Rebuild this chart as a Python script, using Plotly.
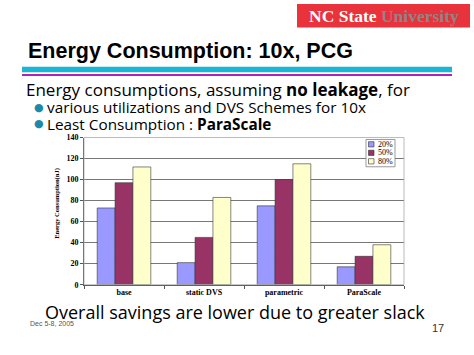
import plotly.graph_objects as go

categories = ["base", "static DVS", "parametric", "ParaScale"]
series_names = ["20%", "50%", "80%"]
values_20 = [73, 21, 75, 17]
values_50 = [97, 45, 100, 27]
values_80 = [112, 83, 115, 38]
y_ticks = [0, 20, 40, 60, 80, 100, 120, 140]

colors = ["#9999FF", "#993366", "#FFFFCC"]
W, H = 474, 355


def px(x):
    return x / W


def py(y):
    return 1 - y / H


fig = go.Figure()
for name, vals, c in zip(series_names, [values_20, values_50, values_80], colors):
    fig.add_trace(go.Bar(x=categories, y=vals, name=name, marker_color=c,
                         marker_line=dict(color="#333333", width=0.6), showlegend=False))

ann = []
shapes = []
# header box
shapes.append(dict(type="rect", xref="paper", yref="paper", x0=px(297), x1=px(470), y0=py(24), y1=py(0),
                   fillcolor="#E8333C", line=dict(width=0), layer="below"))
ann.append(dict(x=px(383.5), y=py(12), xref="paper", yref="paper", showarrow=False,
                text="<b><span style='color:white'>NC State </span><span style='color:#8f8486'>University</span></b>",
                font=dict(family="Liberation Serif", size=17.5), xanchor="center", yanchor="middle"))
# title
ann.append(dict(x=px(26), y=py(48), xref="paper", yref="paper", showarrow=False,
                text="<b>Energy Consumption: 10x, PCG</b>",
                font=dict(family="Liberation Sans", size=21.5, color="black"), xanchor="left", yanchor="middle"))
# lines
shapes.append(dict(type="rect", xref="paper", yref="paper", x0=px(22), x1=px(452), y0=py(70), y1=py(64.5),
                   fillcolor="#1BB5D6", line=dict(width=0)))
shapes.append(dict(type="rect", xref="paper", yref="paper", x0=px(22), x1=px(452), y0=py(74), y1=py(71.7),
                   fillcolor="#B521B5", line=dict(width=0)))
# body text
body_font = "Open Sans"
ann.append(dict(x=px(24), y=py(88), xref="paper", yref="paper", showarrow=False,
                text="Energy consumptions, assuming <b>no leakage</b>, for",
                font=dict(family=body_font, size=17, color="black"), xanchor="left", yanchor="middle"))
for yy, t in [(106, "various utilizations and DVS Schemes for 10x"), (123, "Least Consumption : <b>ParaScale</b>")]:
    ann.append(dict(x=px(32), y=py(yy), xref="paper", yref="paper", showarrow=False,
                    text="<span style='color:#1E88A8'>●</span>",
                    font=dict(family="DejaVu Sans", size=11), xanchor="left", yanchor="middle"))
    ann.append(dict(x=px(45), y=py(yy), xref="paper", yref="paper", showarrow=False,
                    text=t, font=dict(family=body_font, size=15.3, color="black"), xanchor="left", yanchor="middle"))
# bottom text
ann.append(dict(x=px(235), y=py(316), xref="paper", yref="paper", showarrow=False,
                text="Overall savings are lower due to greater slack",
                font=dict(family=body_font, size=18, color="black"), xanchor="center", yanchor="middle"))
ann.append(dict(x=px(28), y=py(328), xref="paper", yref="paper", showarrow=False,
                text="Dec 5-8, 2005", font=dict(family="Liberation Sans", size=7, color="#555555"),
                xanchor="left", yanchor="middle"))
ann.append(dict(x=px(446), y=py(332), xref="paper", yref="paper", showarrow=False,
                text="17", font=dict(family="Liberation Sans", size=11, color="#333333"),
                xanchor="right", yanchor="middle"))
# y axis title
ann.append(dict(x=px(57), y=py(205), xref="paper", yref="paper", showarrow=False, textangle=-90,
                text="<b>Energy Consumption(nJ)</b>", font=dict(family="Liberation Serif", size=6.5, color="black"),
                xanchor="center", yanchor="middle"))
# plot border
shapes.append(dict(type="rect", xref="paper", yref="paper", x0=px(84), x1=px(404), y0=py(288), y1=py(137),
                   line=dict(color="#AAAAAA", width=0.8)))
# legend (drawn manually, compact like the original)
shapes.append(dict(type="rect", xref="paper", yref="paper", x0=px(366), x1=px(395), y0=py(167), y1=py(139),
                   fillcolor="white", line=dict(color="#808080", width=0.8)))
for i, (name, c) in enumerate(zip(series_names, colors)):
    cy = 144 + i * 8.7
    shapes.append(dict(type="rect", xref="paper", yref="paper", x0=px(368.5), x1=px(374), y0=py(cy + 2.7),
                       y1=py(cy - 2.7), fillcolor=c, line=dict(color="#333333", width=0.6)))
    ann.append(dict(x=px(375.5), y=py(cy), xref="paper", yref="paper", showarrow=False, text=name,
                    font=dict(family="Liberation Serif", size=8, color="black"),
                    xanchor="left", yanchor="middle"))

fig.update_layout(
    width=W, height=H, margin=dict(l=0, r=0, t=0, b=0),
    paper_bgcolor="white", plot_bgcolor="white",
    barmode="group", bargap=0.33, bargroupgap=0,
    showlegend=False,
    xaxis=dict(domain=[px(84), px(404)], showline=True, linecolor="#555555", linewidth=1,
               ticks="outside", tickson="boundaries", ticklen=3, tickcolor="#555555",
               tickvals=categories, ticktext=["<b>" + c + "</b>" for c in categories],
               tickfont=dict(family="Liberation Serif", size=8, color="black")),
    yaxis=dict(domain=[py(288), py(137)], range=[0, 140], tickvals=y_ticks, showline=True,
               linecolor="#555555", linewidth=1, ticks="outside", ticklen=3, tickcolor="#555555",
               gridcolor="#777777", gridwidth=0.8, zeroline=False,
               tickfont=dict(family="Liberation Serif", size=8, color="black", weight="bold")),
    annotations=ann, shapes=shapes,
)
fig.write_html("out.html", config={"displayModeBar": False},
               post_script="document.body.style.margin='0';")
